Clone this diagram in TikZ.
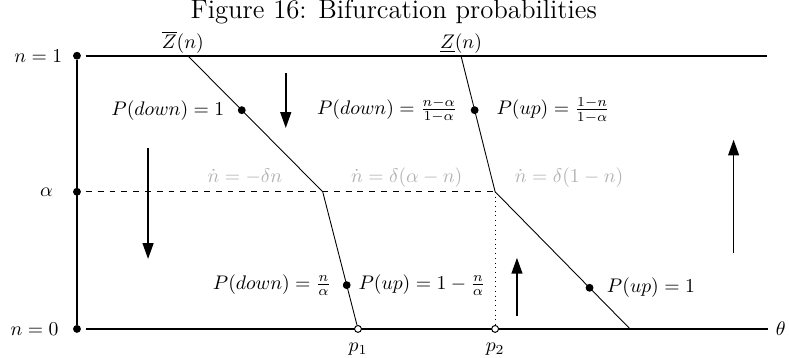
\documentclass[tikz,border=0pt]{standalone}
\usepackage{tikz}
\usetikzlibrary{positioning,arrows.meta}
\definecolor{faded}{gray}{0.70}

\begin{document}
\begin{tikzpicture}[
    axis/.style={line width=0.9pt},
    bound/.style={line width=0.45pt},
    flow/.style={line width=0.8pt,-{Triangle[length=8pt,width=5.5pt]}},
    pt/.style={circle,fill,inner sep=0pt,minimum size=4pt},
    hole/.style={circle,draw,fill=white,inner sep=0pt,minimum size=3.5pt,line width=0.5pt},
    rate/.style={text=faded,anchor=base}]
  \useasboundingbox (-1.375,-0.518) rectangle (12.72,5.876);
  % title
  \node[font=\fontsize{13.6}{16}\selectfont] (title) at (5.66,5.66) {Figure 16: Bifurcation probabilities};
  % n axis
  \node[pt] (top) at (0,4.88) {};
  \node[pt] (mid) at (0,2.45) {};
  \node[pt] (bot) at (0,0) {};
  \node[left=0.06cm of top] (ltop) {$n=1$};
  \node[left=0.23cm of mid] (lmid) {$\alpha$};
  \node[left=0.13cm of bot] (lbot) {$n=0$};
  \draw[axis] (top) -- (bot);
  % horizontal lines
  \coordinate (topL) at (0.16,4.88);
  \coordinate (topR) at (12.32,4.88);
  \coordinate (botL) at (0.16,0);
  \coordinate (botR) at (12.34,0);
  \draw[axis] (topL) -- (topR);
  \draw[axis] (botL) -- (botR);
  \node[right=0.02cm of botR] (theta) {$\theta$};
  % thresholds on theta
  \node[hole] (p1) at (5.02,0) {};
  \node[hole] (p2) at (7.47,0) {};
  \node[below=0.05cm of p1] (lp1) {$p_1$};
  \node[below=0.05cm of p2] (lp2) {$p_2$};
  % upper bound Zbar(n)
  \coordinate (zb1) at (1.98,4.88);
  \coordinate (zb2) at (4.39,2.45);
  % lower bound Z(n)
  \coordinate (zu1) at (6.86,4.88);
  \coordinate (zu2) at (7.47,2.45);
  \coordinate (alphaL) at (0.16,2.45);
  \draw[dashed] (alphaL) -- (zu2);
  \draw[dotted] (zu2) -- (p2);
  \draw[bound] (zb1) -- (zb2) -- (p1);
  \draw[bound] (zu1) -- (zu2) -- (9.88,0);
  \node[above=-0.09cm of zb1,xshift=-0.09cm] (lzb) {$\overline{Z}(n)$};
  \node[above=-0.09cm of zu1] (lzu) {$\underline{Z}(n)$};
  % probability points
  \path (zb1) -- (zb2) node[pt,pos=0.4] (d1) {};
  \path (zu1) -- (zu2) node[pt,pos=0.4] (d2) {};
  \path (zb2) -- (p1) node[pt,pos=0.7] (d3) {};
  \path (zu2) -- (9.88,0) node[pt,pos=0.7] (d4) {};
  \node[left=0.11cm of d1] {$P(down)=1$};
  \node[left=0.11cm of d2] {$P(down)=\frac{n-\alpha}{1-\alpha}$};
  \node[right=0.19cm of d2] {$P(up)=\frac{1-n}{1-\alpha}$};
  \node[left=0.08cm of d3] {$P(down)=\frac{n}{\alpha}$};
  \node[right=0.01cm of d3] {$P(up)=1-\frac{n}{\alpha}$};
  \node[right=0.11cm of d4] {$P(up)=1$};
  % dynamics
  \node[rate] (r1) at (3.0,2.62) {$\dot{n}=-\delta n$};
  \node[rate] (r2) at (5.89,2.62) {$\dot{n}=\delta(\alpha-n)$};
  \node[rate] (r3) at (8.79,2.62) {$\dot{n}=\delta(1-n)$};
  % direction arrows
  \coordinate (a1) at (3.73,4.57);
  \coordinate (b1) at (3.73,3.59);
  \coordinate (a2) at (1.27,3.23);
  \coordinate (b2) at (1.27,1.25);
  \coordinate (a3) at (11.73,1.36);
  \coordinate (b3) at (11.73,3.38);
  \coordinate (a4) at (7.86,0.23);
  \coordinate (b4) at (7.86,1.27);
  \draw[flow] (a1) -- (b1);
  \draw[flow] (a2) -- (b2);
  \draw[flow] (a3) -- (b3);
  \draw[flow] (a4) -- (b4);
\end{tikzpicture}
\end{document}
